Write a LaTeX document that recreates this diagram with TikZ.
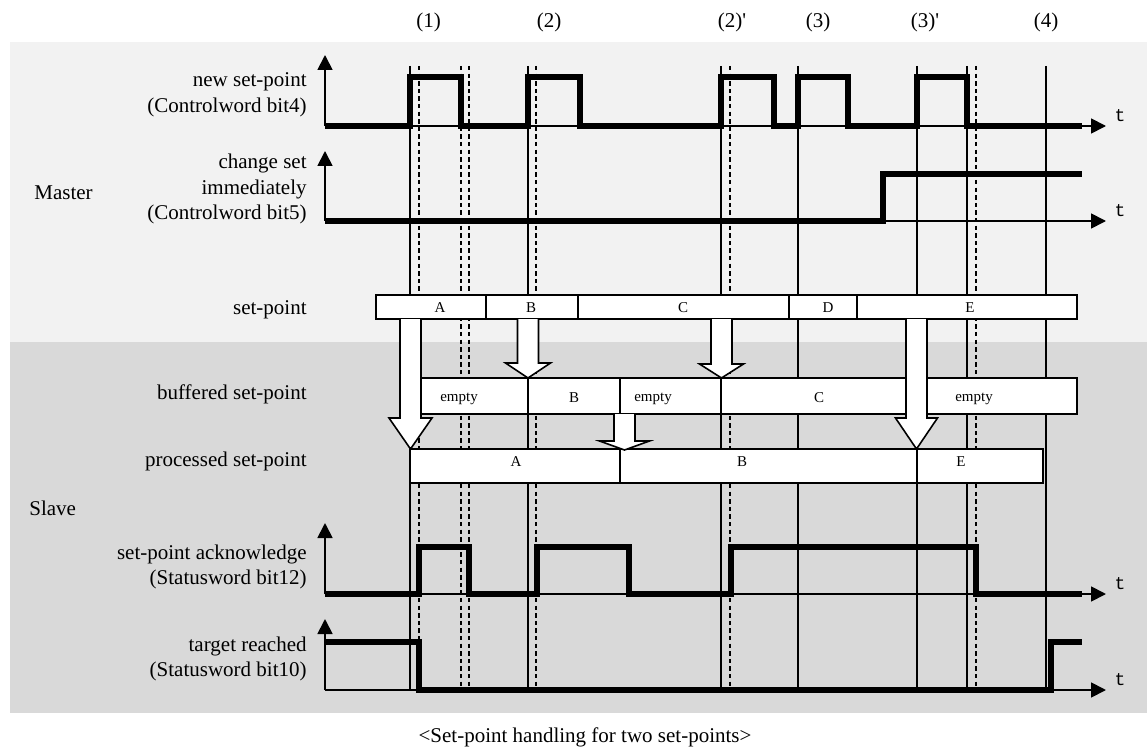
\documentclass[tikz,border=0pt]{standalone}
\usepackage{fontspec}
\setmainfont{Liberation Serif}
\setmonofont{Liberation Mono}
\usepackage{tikz}
\usetikzlibrary{arrows.meta,calc}
\definecolor{MasterGray}{RGB}{242,242,242}
\definecolor{SlaveGray}{RGB}{217,217,217}

\begin{document}
\begin{tikzpicture}[x=0.5pt,y=-0.5pt,>={Triangle[length=7.5pt,width=7.5pt]},
    lbl/.style={font=\fontsize{10.5}{12.75}\selectfont,align=right,anchor=east,inner sep=0pt},
    boxlbl/.style={font=\fontsize{7.5}{9}\selectfont,inner sep=0pt},
    tlbl/.style={font=\ttfamily\fontsize{9}{10}\selectfont,inner sep=0pt},
    vline/.style={line width=0.6pt},
    vdash/.style={line width=0.6pt,dash pattern=on 2.2pt off 1.6pt},
    axis/.style={line width=0.9pt,->},
    sig/.style={line width=3pt},
    sbox/.style={draw,line width=1pt,fill=white},
    blk/.style={draw,line width=0.8pt,fill=white,line join=miter}]
    \useasboundingbox (0,0) rectangle (1147,749);
    % master / slave bands
    \fill[MasterGray] (10,42) rectangle (1147,342);
    \fill[SlaveGray] (10,342) rectangle (1147,713);
    % time marks
    \foreach \x in {410,528,721,798,917,967,1046}
      \draw[vline] (\x,66) -- (\x,690);
    \foreach \x in {419,461,469,536,730,976}
      \draw[vdash] (\x,66) -- (\x,690);
    \node[font=\fontsize{10.5}{12.75}\selectfont] (m1) at (428.6,22) {(1)};
    \node[font=\fontsize{10.5}{12.75}\selectfont] (m2) at (549,22) {(2)};
    \node[font=\fontsize{10.5}{12.75}\selectfont] (m2p) at (732,22) {(2)\textquotesingle};
    \node[font=\fontsize{10.5}{12.75}\selectfont] (m3) at (818,22) {(3)};
    \node[font=\fontsize{10.5}{12.75}\selectfont] (m3p) at (925,22) {(3)\textquotesingle};
    \node[font=\fontsize{10.5}{12.75}\selectfont] (m4) at (1046,22) {(4)};
    % axes
    \foreach \yb/\yt in {126/55,221/151,594/523,690/619}{
      \draw[axis] (325,\yb) -- (325,\yt);
      \draw[axis] (325,\yb) -- (1106,\yb);
      \node[tlbl] (t\yb) at (1120,\yb-10) {t};
    }
    % signals
    \draw[sig] (325,126) -| (410,77) -| (461,126) -| (528,77) -| (580,126) -| (721,77)
      -| (774,126) -| (798,77) -| (848,126) -| (917,77) -| (967,126) -- (1082,126);
    \draw[sig] (325,221) -| (883,174) -- (1082,174);
    \draw[sig] (325,594) -| (419,547) -| (469,594) -| (537,547) -| (629,594) -| (731,547)
      -| (976,594) -- (1082,594);
    \draw[sig] (325,642) -| (419,690) -| (1051,642) -- (1082,642);
    % set-point boxes
    \foreach \xa/\xb in {376/486,486/578,578/789,789/857,857/1077}
      \draw[sbox] (\xa,295) rectangle (\xb,319);
    \foreach \xa/\xb in {421/528,528/620,620/721,721/1077}
      \draw[sbox] (\xa,378) rectangle (\xb,414);
    \foreach \xa/\xb in {410/620,620/917,917/1043}
      \draw[sbox] (\xa,449) rectangle (\xb,483);
    \node[boxlbl] (spA) at (440,308) {A};
    \node[boxlbl] (spB) at (531,308) {B};
    \node[boxlbl] (spC) at (683,308) {C};
    \node[boxlbl] (spD) at (828,308) {D};
    \node[boxlbl] (spE) at (970,308) {E};
    \node[boxlbl] (bf1) at (459,399) {empty};
    \node[boxlbl] (bfB) at (574,398) {B};
    \node[boxlbl] (bf2) at (653,399) {empty};
    \node[boxlbl] (bfC) at (819,398) {C};
    \node[boxlbl] (bf3) at (974,399) {empty};
    \node[boxlbl] (prA) at (516,462) {A};
    \node[boxlbl] (prB) at (742,462) {B};
    \node[boxlbl] (prE) at (961,462) {E};
    % transfer arrows
    \foreach \x/\ya/\yb/\yc/\hw in {410.5/319/418/449/21.5,528/319/363/378/22.5,
        721.5/319/364/378/22,624.5/414/441/450/25,916.5/319/418/449/21}
      \path[blk] (\x-10.5,\ya) -- (\x-10.5,\yb) -- (\x-\hw,\yb) -- (\x,\yc)
        -- (\x+\hw,\yb) -- (\x+10.5,\yb) -- (\x+10.5,\ya);
    % row labels
    \node[lbl] (newsp) at (307,95) {new set-point\\(Controlword bit4)};
    \node[lbl] (chgset) at (307,189) {change set\\immediately\\(Controlword bit5)};
    \node[lbl] (setp) at (307,310) {set-point};
    \node[lbl] (bufsp) at (307,394) {buffered set-point};
    \node[lbl] (procsp) at (307,461) {processed set-point};
    \node[lbl] (ack) at (307,567) {set-point acknowledge\\(Statusword bit12)};
    \node[lbl] (tgt) at (307,659) {target reached\\(Statusword bit10)};
    \node[lbl,anchor=west] (master) at (34,193) {Master};
    \node[lbl,anchor=west] (slave) at (29,508) {Slave};
    \node[font=\fontsize{10.5}{12.75}\selectfont] (caption) at (585,737) {<Set-point handling for two set-points>};
\end{tikzpicture}
\end{document}
